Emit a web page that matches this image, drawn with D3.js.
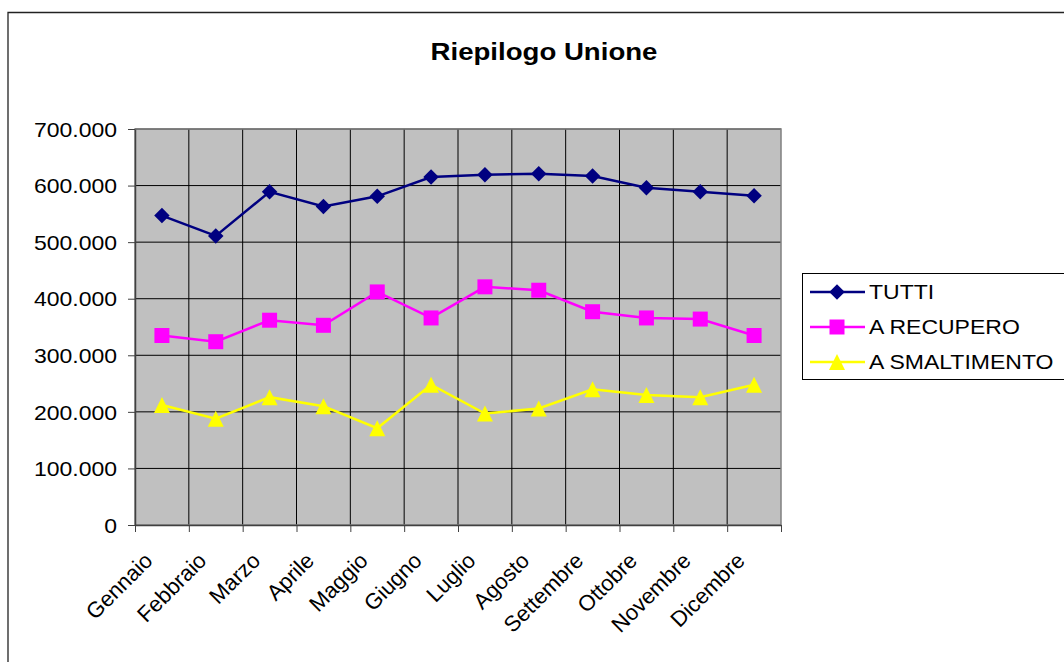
<!DOCTYPE html>
<html>
<head>
<meta charset="utf-8">
<script src="https://cdn.jsdelivr.net/npm/d3@7"></script>
<style>
  html, body { margin: 0; padding: 0; background: #fff; }
  svg { display: block; font-family: Arial, "Liberation Sans", sans-serif; }
</style>
</head>
<body>
<svg id="chart" width="1064" height="662"></svg>
<script>
const months = ["Gennaio", "Febbraio", "Marzo", "Aprile", "Maggio", "Giugno",
  "Luglio", "Agosto", "Settembre", "Ottobre", "Novembre", "Dicembre"]

const tutti = [547000, 511000, 589000, 563000, 581000, 615000,
  619000, 621000, 617000, 596000, 589000, 582000]
const recupero = [335000, 324000, 362000, 353000, 412000, 366000,
  421000, 415000, 377000, 366000, 364000, 335000]
const smaltimento = [212000, 188000, 226000, 210000, 171000, 248000,
  197000, 206000, 240000, 230000, 226000, 248000]

const seriesNames = ["TUTTI", "A RECUPERO", "A SMALTIMENTO"]
const yTicks = [0, 100000, 200000, 300000, 400000, 500000, 600000, 700000]
const yTickLabels = ["0", "100.000", "200.000", "300.000", "400.000", "500.000", "600.000", "700.000"]

const svg = d3.select("#chart")
const stretch = 1.15   // the original text is a bit wider than plain Arial

const plot = { left: 135, right: 781, top: 129, bottom: 525 }

const x = d3.scaleBand().domain(months).range([plot.left, plot.right])
const xEdge = d3.scaleLinear().domain([0, months.length]).range([plot.left, plot.right])
const y = d3.scaleLinear().domain([0, 700000]).range([plot.bottom, plot.top])

// outer frame (only top and left edges are visible)
svg.append("path")
  .attr("d", "M8,662V12.5H1064")
  .attr("fill", "none")
  .attr("stroke", "#222")
  .attr("stroke-width", 1.3)

// title
svg.append("text")
  .attr("transform", `translate(544,60) scale(${stretch},1)`)
  .attr("text-anchor", "middle")
  .attr("font-size", 24)
  .attr("font-weight", "bold")
  .text("Riepilogo Unione")

// plot background
svg.append("rect")
  .attr("x", plot.left).attr("y", plot.top)
  .attr("width", plot.right - plot.left).attr("height", plot.bottom - plot.top)
  .attr("fill", "#c0c0c0")

// grid
svg.append("g")
  .selectAll("line")
  .data(yTicks.slice(1))
  .join("line")
  .attr("x1", plot.left).attr("x2", plot.right)
  .attr("y1", d => y(d)).attr("y2", d => y(d))
  .attr("stroke", "#000")
  .attr("stroke-width", 1)

svg.append("g")
  .selectAll("line")
  .data(d3.range(1, months.length))
  .join("line")
  .attr("x1", d => xEdge(d)).attr("x2", d => xEdge(d))
  .attr("y1", plot.top).attr("y2", plot.bottom)
  .attr("stroke", "#000")
  .attr("stroke-width", 1)

svg.append("rect")
  .attr("x", plot.left).attr("y", plot.top)
  .attr("width", plot.right - plot.left).attr("height", plot.bottom - plot.top)
  .attr("fill", "none")
  .attr("stroke", "#808080")
  .attr("stroke-width", 1.5)

// y axis
svg.append("g")
  .attr("transform", `translate(${plot.left},0)`)
  .call(d3.axisLeft(y).tickValues(yTicks).tickSize(7).tickSizeOuter(0)
    .tickFormat((d, i) => yTickLabels[i]))
  .call(g => g.select(".domain").attr("stroke", "#404040").attr("stroke-width", 1.5))
  .call(g => g.selectAll(".tick line").attr("stroke", "#404040"))
  .call(g => g.selectAll(".tick text")
    .attr("x", null)
    .attr("transform", `translate(-18,0) scale(${stretch},1)`)
    .attr("dy", "0.36em")
    .attr("font-size", 20)
    .attr("font-family", "Arial, 'Liberation Sans', sans-serif")
    .attr("fill", "#000"))

// x axis: ticks on category edges, labels on centres
svg.append("g")
  .attr("transform", `translate(0,${plot.bottom})`)
  .call(d3.axisBottom(xEdge).ticks(months.length).tickSize(7).tickSizeOuter(0).tickFormat(""))
  .call(g => g.select(".domain").attr("stroke", "#404040").attr("stroke-width", 1.5))
  .call(g => g.selectAll(".tick line").attr("stroke", "#404040"))

svg.append("g")
  .attr("transform", `translate(0,${plot.bottom})`)
  .call(d3.axisBottom(x).tickSize(0))
  .call(g => g.select(".domain").remove())
  .call(g => g.selectAll(".tick text")
    .attr("y", null).attr("dy", null)
    .attr("text-anchor", "end")
    .attr("transform", "translate(-8,37) rotate(-45)")
    .attr("font-size", 22)
    .attr("font-family", "Arial, 'Liberation Sans', sans-serif")
    .attr("fill", "#000"))

// markers
const triangleUp = {
  draw(context, size) {
    const r = Math.sqrt(size) / 2
    context.moveTo(0, -r)
    context.lineTo(r, r)
    context.lineTo(-r, r)
    context.closePath()
  }
}

const series = [
  { name: seriesNames[0], values: tutti, color: "#000080", symbol: d3.symbolSquare, size: 120, rotate: 45 },
  { name: seriesNames[1], values: recupero, color: "#ff00ff", symbol: d3.symbolSquare, size: 225, rotate: 0 },
  { name: seriesNames[2], values: smaltimento, color: "#ffff00", symbol: triangleUp, size: 256, rotate: 0 }
]

const cx = m => x(m) + x.bandwidth() / 2

const line = d3.line()
  .x((d, i) => cx(months[i]))
  .y(d => y(d))

series.forEach(s => {
  const g = svg.append("g")
  g.append("path")
    .attr("d", line(s.values))
    .attr("fill", "none")
    .attr("stroke", s.color)
    .attr("stroke-width", 2.5)
  g.selectAll("path.mark")
    .data(s.values)
    .join("path")
    .attr("class", "mark")
    .attr("d", d3.symbol(s.symbol, s.size))
    .attr("transform", (d, i) => `translate(${cx(months[i])},${y(d)}) rotate(${s.rotate})`)
    .attr("fill", s.color)
})

// legend
const legend = svg.append("g")
legend.append("rect")
  .attr("x", 802.5).attr("y", 273.5)
  .attr("width", 300).attr("height", 106)
  .attr("fill", "#fff")
  .attr("stroke", "#000")
  .attr("stroke-width", 1)

const rowY = d3.scalePoint().domain(seriesNames).range([292, 362])

const item = legend.selectAll("g.item")
  .data(series)
  .join("g")
  .attr("class", "item")
  .attr("transform", d => `translate(0,${rowY(d.name)})`)

item.append("line")
  .attr("x1", 810).attr("x2", 865)
  .attr("stroke", d => d.color)
  .attr("stroke-width", 2.5)

item.append("path")
  .attr("d", d => d3.symbol(d.symbol, d.size)())
  .attr("transform", d => `translate(837,0) rotate(${d.rotate})`)
  .attr("fill", d => d.color)

item.append("text")
  .attr("transform", `translate(869,0) scale(${stretch},1)`)
  .attr("dy", "0.36em")
  .attr("font-size", 20)
  .text(d => d.name)
</script>
</body>
</html>
